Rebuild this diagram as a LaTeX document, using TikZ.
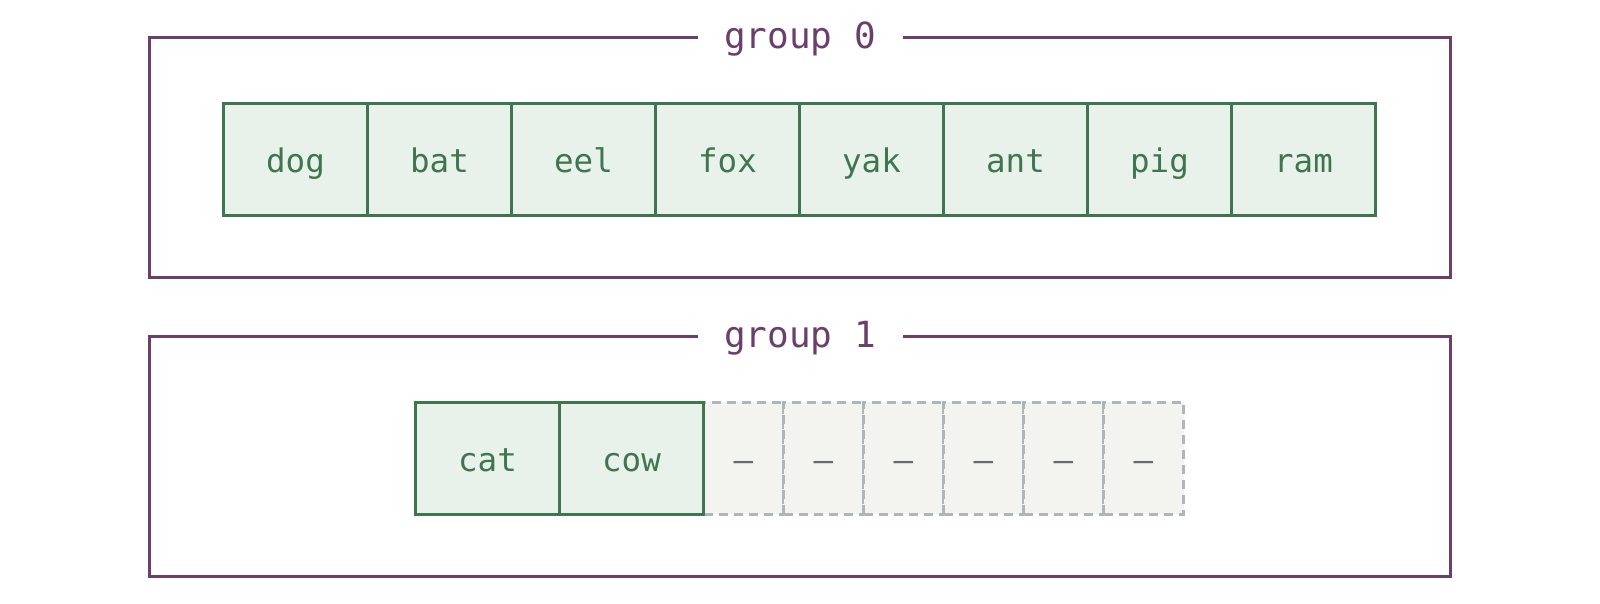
\documentclass[tikz,border=0pt]{standalone}
\usepackage{fontspec}
\setmonofont{DejaVu Sans Mono}
\definecolor{grpc}{RGB}{107,63,107}
\definecolor{cellc}{RGB}{63,118,80}
\definecolor{cellf}{RGB}{232,241,234}
\definecolor{emptyc}{RGB}{176,181,185}
\definecolor{emptyf}{RGB}{243,244,240}
\definecolor{dashc}{RGB}{100,108,112}
\begin{document}
\begin{tikzpicture}[x=1pt,y=-1pt,
  groupbox/.style={draw=grpc,line width=3pt},
  grouptitle/.style={fill=white,inner sep=0pt,minimum width=205pt,minimum height=30pt,text height=22.6pt,text depth=0pt,text=grpc,font=\ttfamily\fontsize{36}{36}\selectfont},
  cellbox/.style={draw=cellc,fill=cellf,line width=3pt,minimum width=144pt,minimum height=112pt,inner sep=0pt,text height=25.6pt,text depth=0pt,text=cellc,font=\ttfamily\fontsize{32.5}{32.5}\selectfont},
  emptybox/.style={draw=emptyc,fill=emptyf,line width=2.5pt,dash pattern=on 9pt off 6pt,minimum width=80pt,minimum height=112pt,inner sep=0pt,text height=25.6pt,text depth=0pt,text=dashc,font=\ttfamily\fontsize{32.5}{32.5}\selectfont}]
\useasboundingbox (0,0) rectangle (1600,603);
\fill[white] (0,0) rectangle (1600,603);
% group 0
\draw[groupbox] (149,37) rectangle (1450,277);
\node[grouptitle] (g0) at (800,37) {group 0};
\foreach \t [count=\i from 0] in {dog,bat,eel,fox,yak,ant,pig,ram}{
  \node[cellbox] (a\i) at ({223.5+72+144*\i},159.2) {\t};
}
% group 1
\draw[groupbox] (149,336) rectangle (1450,576);
\node[grouptitle] (g1) at (800,336) {group 1};
\foreach \i in {0,...,5}{
  \node[emptybox] (e\i) at ({703.5+40+80*\i},458.4) {–};
}
\node[cellbox] (b0) at (487.5,458.4) {cat};
\node[cellbox] (b1) at (631.5,458.4) {cow};
\end{tikzpicture}
\end{document}
